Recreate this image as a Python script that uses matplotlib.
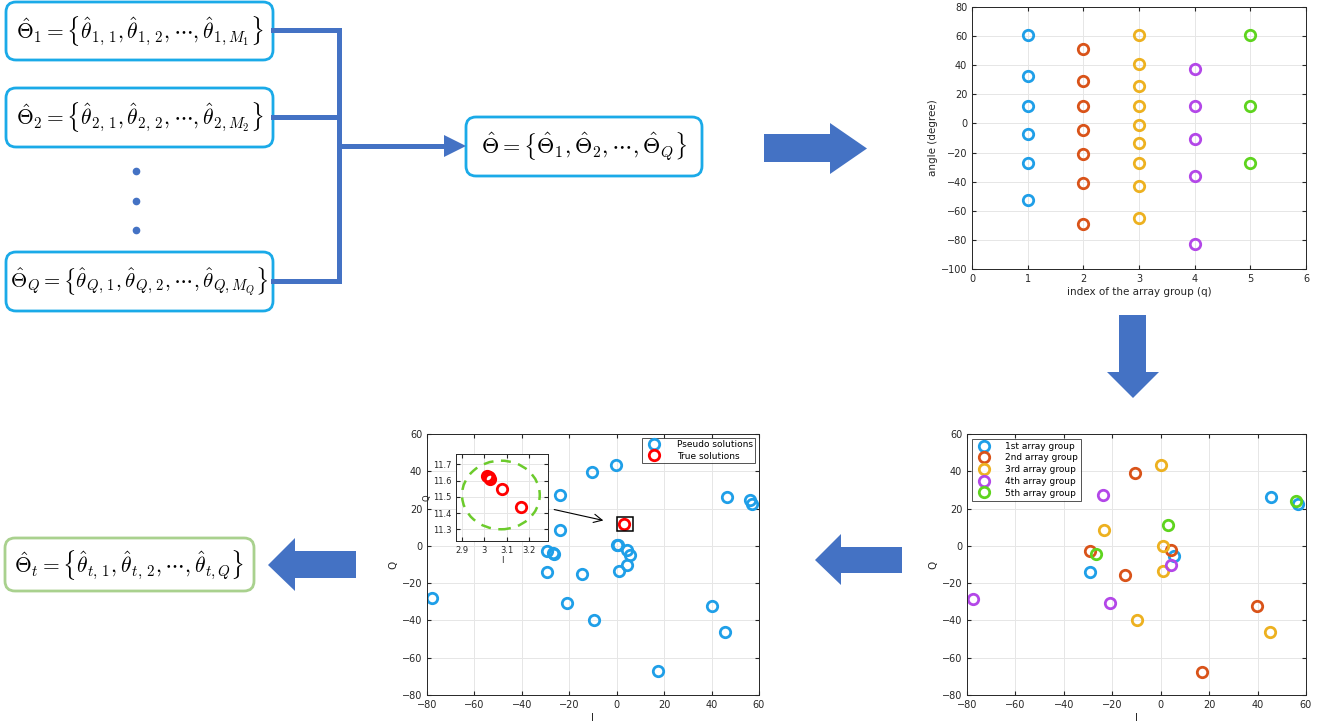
import numpy as np
import matplotlib
matplotlib.use('Agg')
import matplotlib.pyplot as plt
from matplotlib.patches import FancyBboxPatch, Polygon, Rectangle, Ellipse

plt.rcParams['mathtext.fontset'] = 'cm'
plt.rcParams['font.family'] = ['DejaVu Sans']

# ---------------- data ----------------
group_names = ["1st array group", "2nd array group", "3rd array group",
               "4th array group", "5th array group"]
group_colors = ["#1F9FE8", "#D95319", "#EDB120", "#B347E8", "#5ED41E"]

# angle estimates per array group (degree)
angles_g1 = [60.9, 32.5, 11.9, -7.3, -27.5, -52.7]
angles_g2 = [51.1, 29.5, 11.9, -4.4, -21.3, -40.8, -69.4]
angles_g3 = [61.1, 40.8, 25.4, 11.9, -0.9, -13.7, -27.5, -43.0, -64.8]
angles_g4 = [37.6, 11.9, -11.0, -36.4, -83.1]
angles_g5 = [61.1, 11.9, -27.5]

# I/Q points per array group
iq_g1_I = [45.7, 56.8, -29.4, 5.3]
iq_g1_Q = [26.1, 22.3, -13.9, -5.4]
iq_g2_I = [-10.5, -29.2, 4.2, -14.7, 39.9, 17.1]
iq_g2_Q = [39.3, -2.9, -2.0, -15.4, -32.1, -67.5]
iq_g3_I = [0.0, -23.6, 1.0, 1.1, -9.7, 45.0]
iq_g3_Q = [43.2, 8.75, -0.2, -13.6, -39.8, -46.4]
iq_g4_I = [-23.9, -77.5, -21.1, 4.1]
iq_g4_Q = [27.1, -28.4, -30.9, -10.4]
iq_g5_I = [55.8, 3.2, -26.6]
iq_g5_Q = [24.3, 11.4, -4.1]

# pseudo / true solutions
pseudo_I = [-10.6, -0.1, -23.9, 46.3, 56.3, 56.9, -23.8, -29.6, -27.0, -26.5, 0.0, 0.7,
            4.4, 5.5, 4.2, 1.1, -29.4, -14.8, -21.1, -78.0, -9.6, 40.1, 45.6, 17.5]
pseudo_Q = [39.5, 43.4, 27.3, 26.1, 24.6, 22.3, 8.75, -2.7, -3.9, -4.3, 0.2, 0.2,
            -2.1, -5.0, -10.2, -13.4, -13.9, -15.2, -30.5, -28.0, -39.6, -32.0, -46.3, -67.3]
true_I = [3.01, 3.02, 3.025, 3.08, 3.165]
true_Q = [11.63, 11.62, 11.61, 11.55, 11.435]

# ---------------- figure ----------------
W, H = 1320, 728
fig = plt.figure(figsize=(W / 100, H / 100), dpi=100)


def px_axes(x0, y0, x1, y1):
    return fig.add_axes([x0 / W, 1 - y1 / H, (x1 - x0) / W, (y1 - y0) / H])


# overlay for the flow chart (pixel coordinates)
ov = fig.add_axes([0, 0, 1, 1])
ov.set_xlim(0, W)
ov.set_ylim(H, 0)
ov.axis('off')

BLUE = "#4472C4"
box_edge = "#1AAAE8"


def rbox(x0, y0, x1, y1, ec, text, fs=15.5):
    ov.add_patch(FancyBboxPatch((x0, y0), x1 - x0, y1 - y0,
                                boxstyle="round,pad=0,rounding_size=10",
                                fc='white', ec=ec, lw=2))
    ov.text((x0 + x1) / 2, (y0 + y1) / 2, text, ha='center', va='center', fontsize=fs)


rbox(6, 2, 273, 60, box_edge,
     r'$\hat{\Theta}_1=\left\{\hat{\theta}_{1,\,1},\hat{\theta}_{1,\,2},\cdots,\hat{\theta}_{1,M_1}\right\}$')
rbox(6, 88, 273, 147, box_edge,
     r'$\hat{\Theta}_2=\left\{\hat{\theta}_{2,\,1},\hat{\theta}_{2,\,2},\cdots,\hat{\theta}_{2,M_2}\right\}$')
rbox(6, 252, 273, 311, box_edge,
     r'$\hat{\Theta}_Q=\left\{\hat{\theta}_{Q,\,1},\hat{\theta}_{Q,\,2},\cdots,\hat{\theta}_{Q,M_Q}\right\}$',
     fs=15)
rbox(466, 117, 702, 176, box_edge,
     r'$\hat{\Theta}=\left\{\hat{\Theta}_1,\hat{\Theta}_2,\cdots,\hat{\Theta}_Q\right\}$', fs=16)
rbox(5, 538, 254, 591, "#A9D18E",
     r'$\hat{\Theta}_t=\left\{\hat{\theta}_{t,\,1},\hat{\theta}_{t,\,2},\cdots,\hat{\theta}_{t,Q}\right\}$')

# vertical dots
for yd in [171, 201, 230]:
    ov.plot(136, yd, 'o', color=BLUE, ms=4.5)

# connectors
ov.plot([273, 339, 339, 273], [30, 30, 281, 281], color=BLUE, lw=3.6, solid_joinstyle='miter')
ov.plot([273, 339], [117, 117], color=BLUE, lw=3.6)
ov.plot([339, 446], [146, 146], color=BLUE, lw=3.6)
ov.add_patch(Polygon([[444, 135], [466, 146], [444, 157]], closed=True, fc=BLUE, ec='none'))


def block_arrow(pts):
    ov.add_patch(Polygon(pts, closed=True, fc=BLUE, ec='none'))


block_arrow([[764, 134], [830, 134], [830, 123], [867, 148.5], [830, 174], [830, 162], [764, 162]])
block_arrow([[1119, 315], [1146, 315], [1146, 372], [1159, 372], [1133, 398], [1107, 372], [1119, 372]])
block_arrow([[902, 547], [841, 547], [841, 534], [815, 560], [841, 585], [841, 573], [902, 573]])
block_arrow([[356, 551], [295, 551], [295, 538], [268, 565], [295, 591], [295, 578], [356, 578]])


def style_ax(ax, fs=7):
    ax.grid(True, color='#E6E6E6', lw=0.7)
    ax.set_axisbelow(True)
    ax.tick_params(direction='in', length=3, labelsize=fs, colors='#262626', top=True, right=True,
                   labeltop=False, labelright=False)
    for s in ax.spines.values():
        s.set_color('#262626')
        s.set_linewidth(0.7)


mk = dict(marker='o', ls='none', mfc='none', ms=7.5, mew=2)

# ---------------- angle plot ----------------
ax1 = px_axes(972, 7, 1306, 269)
all_angles = [angles_g1, angles_g2, angles_g3, angles_g4, angles_g5]
for q, (ang, c) in enumerate(zip(all_angles, group_colors), start=1):
    ax1.plot([q] * len(ang), ang, mec=c, **mk)
ax1.set_xlim(0, 6)
ax1.set_ylim(-100, 80)
ax1.set_xticks(range(0, 7))
ax1.set_yticks(range(-100, 81, 20))
ax1.set_xlabel('index of the array group (q)', fontsize=7.5, color='#262626', labelpad=2)
ax1.set_ylabel('angle (degree)', fontsize=7.5, color='#262626', labelpad=2)
style_ax(ax1)

# ---------------- IQ per group ----------------
ax2 = px_axes(967, 434, 1306, 695)
iq_I = [iq_g1_I, iq_g2_I, iq_g3_I, iq_g4_I, iq_g5_I]
iq_Q = [iq_g1_Q, iq_g2_Q, iq_g3_Q, iq_g4_Q, iq_g5_Q]
for xi, yi, c, nm in zip(iq_I, iq_Q, group_colors, group_names):
    ax2.plot(xi, yi, mec=c, label=nm, **mk)
ax2.set_xlim(-80, 60)
ax2.set_ylim(-80, 60)
ax2.set_xticks(range(-80, 61, 20))
ax2.set_yticks(range(-80, 61, 20))
ax2.set_xlabel('I', fontsize=7.5, color='#262626', labelpad=2)
ax2.set_ylabel('Q', fontsize=7.5, color='#262626', labelpad=2)
style_ax(ax2)
lg = ax2.legend(loc='upper left', fontsize=6.5, frameon=True, fancybox=False, borderpad=0.35,
                labelspacing=0.3, handletextpad=1.4, borderaxespad=0.5)
lg.get_frame().set_edgecolor('#262626')
lg.get_frame().set_linewidth(0.7)

# ---------------- pseudo / true ----------------
ax3 = px_axes(427, 434, 759, 695)
ax3.plot(pseudo_I, pseudo_Q, mec=group_colors[0], label='Pseudo solutions', **mk)
ax3.plot(np.mean(true_I), np.mean(true_Q), mec='red', label='True solutions', **mk)
ax3.add_patch(Rectangle((0.1, 8.0), 6.8, 7.4, fill=False, ec='black', lw=1.1, zorder=3))
ax3.annotate('', xy=(-4.5, 13.3), xytext=(-27.5, 19.8),
             arrowprops=dict(arrowstyle='->,head_length=0.6,head_width=0.3', color='black', lw=0.8))
ax3.set_xlim(-80, 60)
ax3.set_ylim(-80, 60)
ax3.set_xticks(range(-80, 61, 20))
ax3.set_yticks(range(-80, 61, 20))
ax3.set_xlabel('I', fontsize=7.5, color='#262626', labelpad=2)
ax3.set_ylabel('Q', fontsize=7.5, color='#262626', labelpad=2)
style_ax(ax3)
lg3 = ax3.legend(loc='upper right', fontsize=6.5, frameon=True, fancybox=False, borderpad=0.3,
                 labelspacing=0.25, handletextpad=1.5, borderaxespad=0.4)
lg3.get_frame().set_edgecolor('#262626')
lg3.get_frame().set_linewidth(0.7)

# inset
ax4 = px_axes(456, 454, 548, 541)
ax4.plot(true_I, true_Q, mec='red', **mk)
ax4.add_patch(Ellipse((3.074, 11.511), 0.348, 0.422, fill=False, ec='#6CCB2C', lw=1.8,
                      ls=(0, (4, 3))))
ax4.set_xlim(2.873, 3.285)
ax4.set_ylim(11.228, 11.763)
ax4.set_xticks([2.9, 3.0, 3.1, 3.2])
ax4.set_xticklabels(['2.9', '3', '3.1', '3.2'])
ax4.set_yticks([11.3, 11.4, 11.5, 11.6, 11.7])
ax4.set_xlabel('I', fontsize=6, color='#262626', labelpad=1)
ax4.set_ylabel('Q', fontsize=6, color='#262626', labelpad=1)
style_ax(ax4, fs=6)

fig.savefig('out.png', dpi=100)
